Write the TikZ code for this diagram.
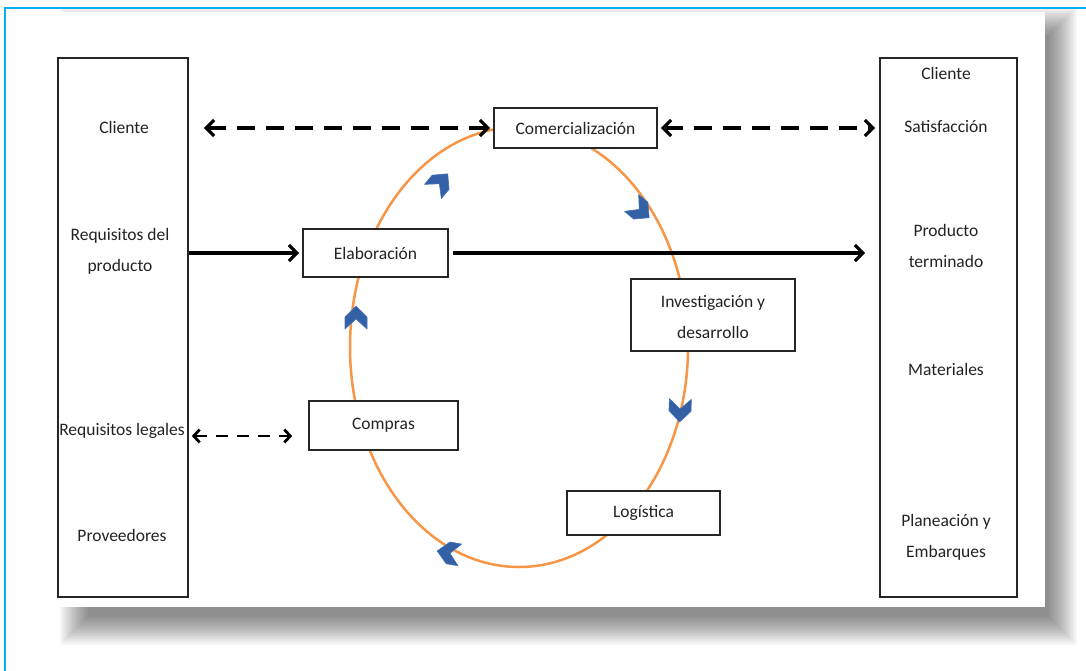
\documentclass[tikz,border=0pt]{standalone}
\usepackage{fontspec}
\setmainfont{Carlito}
\usetikzlibrary{arrows.meta}
\definecolor{framecol}{RGB}{0,176,240}
\definecolor{ringcol}{RGB}{247,150,70}
\definecolor{chevcol}{RGB}{52,96,166}
\definecolor{chevedge}{RGB}{70,115,185}
\definecolor{txtcol}{RGB}{35,35,35}
\begin{document}
\begin{tikzpicture}[x=1pt,y=-1pt,
  box/.style={draw=black!85, line width=1.6, fill=white, inner sep=0pt},
  lbl/.style={text=txtcol, font=\fontsize{17.5}{31}\selectfont, align=center, inner sep=0pt},
  dasharrow/.style={line width=3.2, dash pattern=on 18pt off 11pt, {Straight Barb[length=8pt,width=16pt]}-{Straight Barb[length=8pt,width=16pt]}},
  dasharrowb/.style={line width=2.8, dash pattern=on 12pt off 9pt, {Straight Barb[length=6pt,width=13pt]}-{Straight Barb[length=6pt,width=13pt]}},
  solidarrow/.style={line width=3.2, -{Straight Barb[length=8pt,width=16pt]}},
  chevron/.pic={\filldraw[fill=chevcol, draw=chevedge, line width=0.6, line join=round] (12,0) -- (1,11) -- (-11,11) -- (-1,0) -- (-11,-11) -- (1,-11) -- cycle;}
]
\useasboundingbox (0,0) rectangle (1086,670);
\clip (0,0) rectangle (1086,670);
\fill[white] (0,0) rectangle (1086,670);
% shadow
\foreach \i in {0,...,14}{
  \fill[black, opacity=0.035] (75-15+2*\i, 22-15+2*\i) rectangle (1062+15-2*\i, 630+15-2*\i);
}
% card
\fill[white] (35,12) rectangle (1045,607);
% frame
\draw[framecol, line width=2] (5,8) rectangle (1100,700);
% ring
\draw[ringcol, line width=2.5] (519,347) ellipse [x radius=169, y radius=220];
% side boxes
\node[box, minimum width=130, minimum height=539] (L) at (123,327.5) {};
\node[box, minimum width=137, minimum height=539] (R) at (948.5,327.5) {};
% process boxes
\node[box, minimum width=163, minimum height=40] (com) at (575.5,128) {};
\node[box, minimum width=145, minimum height=48] (ela) at (375.5,253) {};
\node[box, minimum width=164, minimum height=72] (inv) at (713,315) {};
\node[box, minimum width=149, minimum height=49] (cpr) at (383.5,425.5) {};
\node[box, minimum width=153, minimum height=44] (log) at (643.5,513) {};
\node[lbl] (comt) at (com) {Comercialización};
\node[lbl] (elat) at (ela) {Elaboración};
\node[lbl] (invt) at (713,317) {Investigación y\\desarrollo};
\node[lbl] (cprt) at (cpr) {Compras};
\node[lbl] (logt) at (log) {Logística};
% left labels
\node[lbl] (lcli) at (124,127) {Cliente};
\node[lbl] (lreq) at (120,251) {Requisitos del\\producto};
\node[lbl] (lleg) at (122,431) {Requisitos legales};
\node[lbl] (lpro) at (122,535) {Proveedores};
% right labels
\node[lbl] (rcli) at (946,73) {Cliente};
\node[lbl] (rsat) at (946,127) {Satisfacción};
\node[lbl] (rprod) at (946,246) {Producto\\terminado};
\node[lbl] (rmat) at (946,369) {Materiales};
\node[lbl] (rpla) at (946,537) {Planeación y\\Embarques};
% chevrons
\pic[rotate=50] at (440,183) {chevron};
\pic[rotate=-40] at (640,210) {chevron};
\pic[rotate=-92] at (680,410) {chevron};
\pic[rotate=170] at (449,553) {chevron};
\pic[rotate=90] at (356,318) {chevron};
% connectors
\draw[dasharrow] ([xshift=15]L.east |- com) -- ([xshift=-3]com.west);
\draw[dasharrow] ([xshift=3]com.east) -- ([xshift=-4]R.west |- com);
\draw[solidarrow] (L.east |- ela) -- ([xshift=-3]ela.west);
\draw[solidarrow] ([xshift=4]ela.east) -- ([xshift=-14]R.west |- ela);
\draw[dasharrowb] ([xshift=3]L.east |- 0,436) -- ([xshift=-16]cpr.west |- 0,436);
\end{tikzpicture}
\end{document}
